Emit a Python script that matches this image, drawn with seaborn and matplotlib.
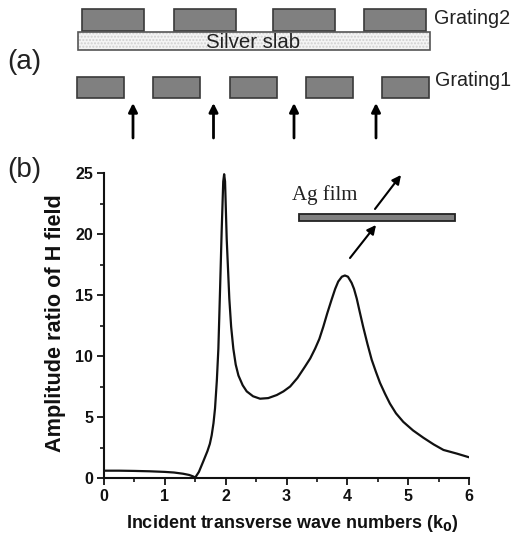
import pandas as pd
import matplotlib.pyplot as plt
import seaborn as sns
from matplotlib.patches import Rectangle

sns.set_theme(style="ticks")
plt.rcParams['font.family'] = ['Liberation Sans', 'DejaVu Sans']

# Curve values
wave_numbers = [0, 0.25, 0.5, 0.75, 1.0, 1.15, 1.3, 1.4, 1.46, 1.5, 1.56, 1.63, 1.7, 1.74, 1.77, 1.8, 1.825,
                1.855, 1.88, 1.907, 1.934, 1.96, 1.975, 1.99, 2.017, 2.06, 2.09, 2.126, 2.165, 2.21, 2.28, 2.346, 2.45,
                2.565, 2.7, 2.84, 2.95, 3.06, 3.18, 3.3, 3.39, 3.47, 3.54, 3.605, 3.67, 3.74, 3.8, 3.85, 3.91, 3.96, 4.01, 4.07,
                4.11, 4.155, 4.2, 4.26, 4.33, 4.4, 4.47, 4.537, 4.62, 4.7, 4.8, 4.92, 5.08, 5.25, 5.42, 5.58, 5.8, 6.0]
amplitude = [0.6, 0.6, 0.58, 0.55, 0.5, 0.45, 0.35, 0.25, 0.14, 0.04, 0.5, 1.34, 2.2, 2.8, 3.5, 4.5, 5.7,
             8.0, 10.6, 15.3, 20.2, 24.3, 24.9, 24.3, 19.6, 14.7, 12.4, 10.6, 9.3, 8.4, 7.6, 7.1, 6.7,
             6.5, 6.55, 6.8, 7.1, 7.5, 8.2, 9.1, 9.8, 10.6, 11.4, 12.4, 13.5, 14.6, 15.5, 16.1, 16.5, 16.6, 16.5, 16.0,
             15.5, 14.7, 13.7, 12.4, 11.0, 9.7, 8.7, 7.8, 6.9, 6.1, 5.3, 4.6, 3.9, 3.3, 2.75, 2.3, 2.0, 1.7]
x_major = [0, 1, 2, 3, 4, 5, 6]
x_minor = [0.5, 1.5, 2.5, 3.5, 4.5, 5.5]
y_major = [0, 5, 10, 15, 20, 25]
y_minor = [2.5, 7.5, 12.5, 17.5, 22.5]

# Diagram parts, in picture pixels
grating2_left = [82, 174, 273, 364]
grating1_left = [77, 153, 230, 306, 382]
beam_x = [133, 213.5, 294, 376]

W, H = 515, 535
fig = plt.figure(figsize=(W / 100, H / 100), dpi=100)
ax = fig.add_axes([104 / W, 1 - 478 / H, 365 / W, 305 / H])

df = pd.DataFrame({'k': wave_numbers, 'ratio': amplitude})
sns.lineplot(data=df, x='k', y='ratio', color='#111111', linewidth=1.6, errorbar=None, ax=ax)
ax.set_xlim(0, 6)
ax.set_ylim(0, 25)
ax.set_xticks(x_major)
ax.set_xticks(x_minor, minor=True)
ax.set_yticks(y_major)
ax.set_yticks(y_minor, minor=True)
ax.set_xlabel('')
ax.set_ylabel('')
ax.tick_params(which='major', length=4.7, width=1.3, labelsize=11.5, pad=3, colors='#111111')
ax.tick_params(which='minor', length=3, width=1.2, colors='#111111')
for label in ax.get_xticklabels() + ax.get_yticklabels():
    label.set_fontweight('bold')
sns.despine(ax=ax)
for side in ['left', 'bottom']:
    ax.spines[side].set_linewidth(1.5)
    ax.spines[side].set_color('#111111')

# Overlay in pixel coordinates for the sketch and the labels
ov = fig.add_axes([0, 0, 1, 1], facecolor='none')
ov.set_xlim(0, W)
ov.set_ylim(H, 0)
ov.axis('off')

gray = '#808080'
edge = '#3a3a3a'
for left in grating2_left:
    ov.add_patch(Rectangle((left, 9), 62, 22, fc=gray, ec=edge, lw=1.2))
for left in grating1_left:
    ov.add_patch(Rectangle((left, 77), 47, 21, fc=gray, ec=edge, lw=1.2))
ov.add_patch(Rectangle((78, 32), 352, 18, fc='#f4f4f4', ec='#cfcfcf', lw=0, hatch='.....'))
ov.add_patch(Rectangle((78, 32), 352, 18, fc='none', ec='#555555', lw=1.2))
ov.add_patch(Rectangle((299, 214), 156, 7, fc=gray, ec='#222222', lw=1.3))

for bx in beam_x:
    ov.annotate('', xy=(bx, 103), xytext=(bx, 138),
                arrowprops=dict(arrowstyle='-|>', color='black', lw=2, mutation_scale=13, shrinkA=0, shrinkB=0))
ov.annotate('', xy=(401, 175), xytext=(375, 209),
            arrowprops=dict(arrowstyle='-|>', color='black', lw=1.5, mutation_scale=13, shrinkA=0, shrinkB=0))
ov.annotate('', xy=(376, 225), xytext=(350, 258),
            arrowprops=dict(arrowstyle='-|>', color='black', lw=1.5, mutation_scale=13, shrinkA=0, shrinkB=0))

ov.text(434, 19, 'Grating2', fontsize=14.2, va='center', color='#222222')
ov.text(435, 80, 'Grating1', fontsize=14.2, va='center', color='#222222')
ov.text(253, 42, 'Silver slab', fontsize=14.7, va='center', ha='center', color='#222222')
ov.text(7, 62, '(a)', fontsize=20, va='center', color='#222222')
ov.text(7, 170, '(b)', fontsize=20, va='center', color='#222222')
ov.text(292, 195, 'Ag film', fontsize=15, va='center', family='Liberation Serif', color='#222222')
ov.text(55, 323, 'Amplitude ratio of H field', fontsize=15.6, fontweight='bold', rotation=90,
        va='center', ha='center', color='#111111')
ov.text(126, 524, 'Incident transverse wave numbers (k$_{\\mathbf{0}}$)', fontsize=13, fontweight='bold',
        va='center', color='#111111')

fig.savefig('out.png', dpi=100)
